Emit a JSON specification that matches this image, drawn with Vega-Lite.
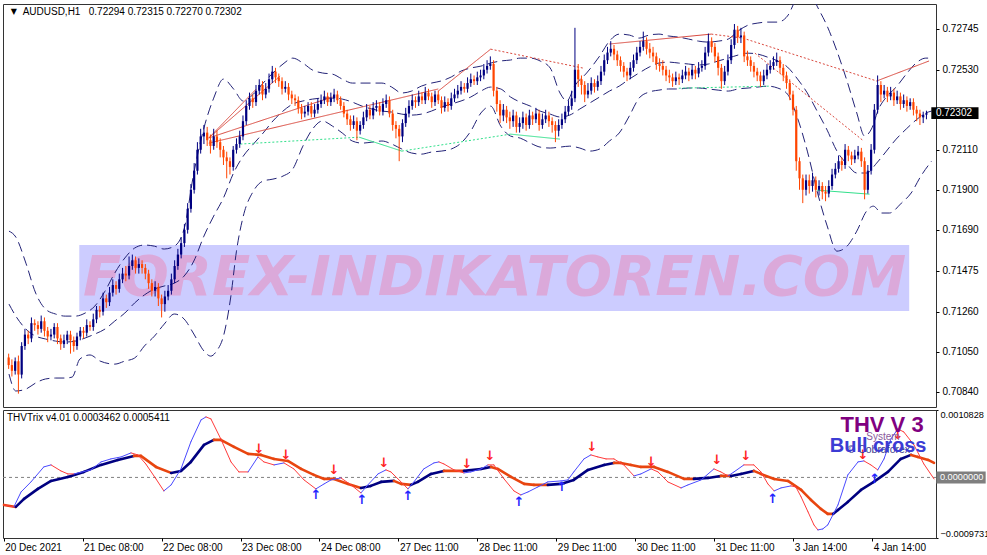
{
  "$schema": "https://vega.github.io/schema/vega-lite/v6.json",
  "usermeta": {"embedOptions": {"actions": false}},
  "background": "#ffffff",
  "padding": {"left": 2, "top": 3, "right": 0, "bottom": 0},
  "spacing": 1,
  "config": {
    "font": "Liberation Sans",
    "view": {"stroke": "#333333", "strokeWidth": 1},
    "axis": {"labelFont": "Liberation Sans", "labelFontSize": 10, "labelColor": "#000000", "tickColor": "#000000", "domain": false, "grid": false, "tickSize": 3, "labelPadding": 3}
  },
  "vconcat": [
    {
      "width": 933,
      "height": 403,
      "layer": [
        {
          "data": {"values": [{}]},
          "mark": {"type": "rect", "color": "#ccccff"},
          "encoding": {
            "x": {"datum": 21.7, "type": "quantitative", "scale": {"domain": [-0.2, 283.4], "nice": false, "zero": false}, "axis": null},
            "x2": {"datum": 276.7},
            "y": {"datum": 0.71264, "type": "quantitative", "scale": {"domain": [0.7076, 0.72875], "nice": false, "zero": false},
                  "axis": {"orient": "right", "title": null, "values": [0.7084, 0.7105, 0.7126, 0.71475, 0.7169, 0.719, 0.7211, 0.7253, 0.72745], "format": ".5f", "labelOverlap": false}},
            "y2": {"datum": 0.7161}
          }
        },
        {
          "data": {"values": [{}]},
          "mark": {"type": "text", "text": "FOREX-INDIKATOREN.COM", "font": "DejaVu Sans", "fontSize": 56, "fontWeight": "bold", "fontStyle": "italic", "color": "#dba9da", "align": "center", "baseline": "middle"},
          "encoding": {
            "x": {"datum": 149.3, "type": "quantitative", "scale": {"domain": [-0.2, 283.4], "nice": false, "zero": false}, "axis": null},
            "y": {"datum": 0.71437, "type": "quantitative", "scale": {"domain": [0.7076, 0.72875], "nice": false, "zero": false}}
          }
        },
        {
          "data": {"values": "i,p,b\n0.1,0.71683,u\n2.2,0.71652,u\n5.3,0.71515,u\n8.3,0.71358,u\n11.3,0.71274,u\n14.4,0.71248,u\n17.4,0.71237,u\n20.5,0.71237,u\n23.5,0.71253,u\n26.5,0.71290,u\n29.6,0.71368,u\n32.6,0.71463,u\n35.7,0.71542,u\n38.7,0.71594,u\n41.7,0.71610,u\n44.8,0.71604,u\n47.8,0.71589,u\n50.9,0.71604,u\n53.9,0.71694,u\n56.9,0.71988,u\n60.0,0.72224,u\n63.0,0.72381,u\n66.0,0.72481,u\n69.1,0.72429,u\n72.1,0.72366,u\n75.2,0.72402,u\n78.2,0.72460,u\n81.2,0.72513,u\n84.3,0.72560,u\n87.3,0.72591,u\n90.4,0.72565,u\n93.4,0.72528,u\n96.4,0.72513,u\n99.5,0.72507,u\n102.5,0.72481,u\n105.6,0.72460,u\n111.6,0.72460,u\n114.7,0.72460,u\n117.7,0.72439,u\n120.8,0.72408,u\n123.8,0.72418,u\n126.8,0.72444,u\n129.9,0.72460,u\n132.9,0.72471,u\n136.0,0.72492,u\n139.0,0.72523,u\n142.0,0.72539,u\n145.1,0.72549,u\n148.1,0.72565,u\n151.2,0.72576,u\n154.2,0.72581,u\n157.2,0.72591,u\n160.3,0.72591,u\n163.3,0.72576,u\n166.4,0.72539,u\n169.4,0.72408,u\n171.5,0.72366,u\n173.9,0.72444,u\n177.6,0.72513,u\n181.6,0.72602,u\n184.6,0.72680,u\n187.6,0.72717,u\n190.7,0.72712,u\n193.7,0.72696,u\n196.8,0.72712,u\n199.8,0.72717,u\n202.8,0.72707,u\n205.9,0.72701,u\n208.9,0.72691,u\n212.0,0.72680,u\n215.0,0.72675,u\n218.0,0.72680,u\n221.1,0.72691,u\n224.1,0.72733,u\n227.2,0.72764,u\n230.2,0.72775,u\n233.2,0.72780,u\n236.3,0.72780,u\n239.3,0.72812,u\n242.4,0.72917,u\n245.4,0.72969,u\n248.4,0.72864,u\n251.5,0.72759,u\n254.5,0.72628,u\n257.6,0.72471,u\n260.6,0.72303,u\n263.0,0.72182,u\n265.1,0.72219,u\n267.3,0.72324,u\n269.7,0.72387,u\n272.7,0.72439,u\n275.8,0.72507,u\n278.8,0.72565,u\n281.8,0.72591,u\n283.6,0.72591,u\n0.1,0.71300,m\n2.2,0.71237,m\n5.3,0.71169,m\n8.3,0.71132,m\n11.3,0.71117,m\n14.4,0.71106,m\n17.4,0.71101,m\n20.5,0.71106,m\n23.5,0.71122,m\n26.5,0.71143,m\n29.6,0.71169,m\n32.6,0.71211,m\n35.7,0.71253,m\n38.7,0.71306,m\n41.7,0.71348,m\n44.8,0.71379,m\n47.8,0.71395,m\n50.9,0.71410,m\n53.9,0.71447,m\n56.9,0.71526,m\n60.0,0.71657,m\n63.0,0.71762,m\n66.0,0.71857,m\n69.1,0.71988,m\n72.1,0.72077,m\n75.2,0.72140,m\n78.2,0.72198,m\n81.2,0.72261,m\n84.3,0.72313,m\n87.3,0.72350,m\n90.4,0.72366,m\n93.4,0.72376,m\n96.4,0.72381,m\n99.5,0.72381,m\n102.5,0.72376,m\n105.6,0.72360,m\n108.6,0.72339,m\n111.6,0.72324,m\n114.7,0.72313,m\n117.7,0.72308,m\n120.8,0.72297,m\n123.8,0.72292,m\n126.8,0.72297,m\n129.9,0.72313,m\n132.9,0.72334,m\n136.0,0.72350,m\n139.0,0.72366,m\n142.0,0.72387,m\n145.1,0.72418,m\n148.1,0.72439,m\n151.2,0.72429,m\n154.2,0.72387,m\n157.2,0.72360,m\n160.3,0.72339,m\n163.3,0.72313,m\n166.4,0.72297,m\n169.4,0.72282,m\n172.4,0.72292,m\n175.5,0.72324,m\n178.5,0.72355,m\n181.6,0.72387,m\n184.6,0.72418,m\n187.6,0.72444,m\n190.7,0.72481,m\n193.7,0.72513,m\n196.8,0.72544,m\n199.8,0.72565,m\n202.8,0.72570,m\n205.9,0.72565,m\n208.9,0.72560,m\n212.0,0.72555,m\n215.0,0.72560,m\n218.0,0.72576,m\n221.1,0.72591,m\n224.1,0.72607,m\n227.2,0.72617,m\n230.2,0.72612,m\n233.2,0.72596,m\n236.3,0.72576,m\n239.3,0.72544,m\n242.4,0.72481,m\n245.4,0.72408,m\n248.4,0.72313,m\n251.5,0.72213,m\n254.5,0.72103,m\n257.6,0.72035,m\n260.6,0.71988,m\n263.6,0.71988,m\n266.7,0.72040,m\n269.7,0.72103,m\n272.7,0.72166,m\n275.8,0.72219,m\n278.8,0.72266,m\n281.8,0.72303,m\n283.6,0.72313,m\n0.1,0.70933,l\n2.2,0.70844,l\n5.3,0.70854,l\n8.3,0.70886,l\n11.3,0.70907,l\n14.4,0.70912,l\n17.4,0.70912,l\n19.5,0.70917,l\n21.9,0.71012,l\n25.0,0.71033,l\n28.1,0.71001,l\n32.6,0.70985,l\n35.7,0.71001,l\n38.7,0.71017,l\n41.7,0.71080,l\n44.8,0.71132,l\n47.8,0.71195,l\n50.9,0.71248,l\n53.9,0.71222,l\n56.9,0.71143,l\n60.0,0.71054,l\n62.1,0.71027,l\n63.9,0.71054,l\n66.0,0.71132,l\n68.2,0.71332,l\n70.0,0.71578,l\n72.1,0.71762,l\n75.2,0.71893,l\n78.2,0.71946,l\n81.2,0.71956,l\n84.3,0.71972,l\n87.3,0.72009,l\n90.4,0.72129,l\n93.4,0.72219,l\n96.4,0.72261,l\n99.5,0.72234,l\n102.5,0.72198,l\n105.6,0.72156,l\n108.6,0.72145,l\n111.6,0.72150,l\n114.7,0.72156,l\n117.7,0.72140,l\n120.8,0.72114,l\n123.8,0.72093,l\n126.8,0.72087,l\n129.9,0.72098,l\n132.9,0.72103,l\n136.0,0.72114,l\n139.0,0.72145,l\n142.0,0.72208,l\n145.1,0.72303,l\n148.1,0.72339,l\n151.2,0.72234,l\n154.2,0.72182,l\n157.2,0.72171,l\n160.3,0.72145,l\n163.3,0.72124,l\n166.4,0.72119,l\n169.4,0.72124,l\n172.4,0.72129,l\n175.5,0.72119,l\n178.5,0.72103,l\n181.6,0.72114,l\n184.6,0.72156,l\n187.6,0.72198,l\n190.7,0.72287,l\n193.7,0.72381,l\n196.8,0.72413,l\n199.8,0.72423,l\n202.8,0.72429,l\n205.9,0.72429,l\n208.9,0.72434,l\n212.0,0.72434,l\n215.0,0.72429,l\n218.0,0.72423,l\n221.1,0.72418,l\n224.1,0.72429,l\n227.2,0.72434,l\n230.2,0.72439,l\n233.2,0.72444,l\n236.3,0.72434,l\n239.3,0.72402,l\n242.4,0.72276,l\n245.4,0.72103,l\n248.4,0.71893,l\n251.5,0.71710,l\n254.5,0.71578,l\n257.6,0.71604,l\n260.6,0.71683,l\n263.6,0.71788,l\n265.7,0.71814,l\n268.2,0.71778,l\n270.6,0.71778,l\n274.3,0.71830,l\n277.3,0.71883,l\n280.3,0.71972,l\n283.6,0.72051,l", "format": {"type": "csv", "parse": {"i": "number", "p": "number"}}},
          "mark": {"type": "line", "color": "#232377", "strokeWidth": 1, "strokeDash": [10, 5], "interpolate": "monotone", "clip": true},
          "encoding": {
            "x": {"field": "i", "type": "quantitative", "scale": {"domain": [-0.2, 283.4], "nice": false, "zero": false}, "axis": null},
            "y": {"field": "p", "type": "quantitative", "scale": {"domain": [0.7076, 0.72875], "nice": false, "zero": false}},
            "detail": {"field": "b", "type": "nominal"},
            "order": {"field": "i", "type": "quantitative"}
          }
        },
        {
          "data": {"values": "i1,p1,i2,p2,k\n61.5,0.72172,76.1,0.72429,rs\n61.5,0.72172,83.4,0.72497,rs\n61.5,0.72172,99.5,0.72387,rs\n61.5,0.72145,132.0,0.72429,rs\n132.0,0.72418,148.1,0.72638,rs\n148.1,0.72638,176.4,0.72539,rd\n184.6,0.72665,215.9,0.72717,rs\n215.9,0.72717,225.6,0.72696,rd\n225.6,0.72696,266.7,0.72471,rd\n229.3,0.72617,262.7,0.72156,rd\n266.7,0.72471,282.8,0.72576,rs\n71.2,0.72140,107.7,0.72176,gd\n107.7,0.72176,120.8,0.72103,gs\n120.8,0.72103,154.2,0.72192,gd\n154.2,0.72192,169.4,0.72166,gs\n205.9,0.72433,234.1,0.72444,gd\n248.4,0.71898,264.5,0.71877,gs", "format": {"type": "csv", "parse": {"i1": "number", "p1": "number", "i2": "number", "p2": "number"}}},
          "mark": {"type": "rule", "strokeWidth": 1},
          "encoding": {
            "x": {"field": "i1", "type": "quantitative", "scale": {"domain": [-0.2, 283.4], "nice": false, "zero": false}, "axis": null},
            "x2": {"field": "i2"},
            "y": {"field": "p1", "type": "quantitative", "scale": {"domain": [0.7076, 0.72875], "nice": false, "zero": false}},
            "y2": {"field": "p2"},
            "color": {"field": "k", "type": "nominal", "scale": {"domain": ["rs", "rd", "gs", "gd"], "range": ["#d9473c", "#d9473c", "#2fe08a", "#2fe08a"]}, "legend": null},
            "strokeDash": {"field": "k", "type": "nominal", "scale": {"domain": ["rs", "rd", "gs", "gd"], "range": [[1, 0], [2, 2], [1, 0], [2, 2]]}, "legend": null}
          }
        },
        {
          "data": {"values": "i,o,h,l,c\n0,0.7102,0.7104,0.7096,0.7098\n1,0.7098,0.7101,0.7092,0.7095\n2,0.7095,0.7102,0.7093,0.7100\n3,0.7100,0.7103,0.7083,0.7093\n4,0.7093,0.7110,0.7091,0.7108\n5,0.7108,0.7117,0.7106,0.7114\n6,0.7114,0.7116,0.7109,0.7112\n7,0.7112,0.7123,0.7110,0.7120\n8,0.7120,0.7122,0.7116,0.7119\n9,0.7119,0.7121,0.7114,0.7117\n10,0.7117,0.7124,0.7115,0.7121\n11,0.7121,0.7123,0.7113,0.7116\n12,0.7116,0.7118,0.7110,0.7113\n13,0.7113,0.7117,0.7111,0.7114\n14,0.7114,0.7120,0.7112,0.7118\n15,0.7118,0.7120,0.7109,0.7112\n16,0.7112,0.7114,0.7106,0.7109\n17,0.7109,0.7114,0.7107,0.7111\n18,0.7111,0.7116,0.7109,0.7114\n19,0.7114,0.7116,0.7104,0.7111\n20,0.7111,0.7113,0.7105,0.7108\n21,0.7108,0.7115,0.7106,0.7113\n22,0.7113,0.7118,0.7111,0.7116\n23,0.7116,0.7118,0.7112,0.7115\n24,0.7115,0.7122,0.7113,0.7119\n25,0.7119,0.7121,0.7116,0.7118\n26,0.7118,0.7125,0.7116,0.7122\n27,0.7122,0.7129,0.7120,0.7127\n28,0.7127,0.7129,0.7123,0.7126\n29,0.7126,0.7136,0.7124,0.7133\n30,0.7133,0.7135,0.7128,0.7131\n31,0.7131,0.7139,0.7129,0.7136\n32,0.7136,0.7143,0.7134,0.7140\n33,0.7140,0.7142,0.7135,0.7138\n34,0.7138,0.7146,0.7136,0.7143\n35,0.7143,0.7149,0.7141,0.7146\n36,0.7146,0.7150,0.7142,0.7145\n37,0.7145,0.7155,0.7143,0.7150\n38,0.7150,0.7156,0.7148,0.7153\n39,0.7153,0.7155,0.7146,0.7149\n40,0.7149,0.7154,0.7146,0.7151\n41,0.7151,0.7153,0.7146,0.7149\n42,0.7149,0.7151,0.7143,0.7146\n43,0.7146,0.7148,0.7138,0.7141\n44,0.7141,0.7143,0.7134,0.7137\n45,0.7137,0.7142,0.7134,0.7139\n46,0.7139,0.7141,0.7129,0.7133\n47,0.7133,0.7135,0.7123,0.7130\n48,0.7130,0.7137,0.7126,0.7134\n49,0.7134,0.7140,0.7132,0.7137\n50,0.7137,0.7146,0.7135,0.7143\n51,0.7143,0.7153,0.7141,0.7150\n52,0.7150,0.7159,0.7148,0.7156\n53,0.7156,0.7165,0.7154,0.7162\n54,0.7162,0.7172,0.7160,0.7169\n55,0.7169,0.7183,0.7167,0.7180\n56,0.7180,0.7193,0.7178,0.7190\n57,0.7190,0.7204,0.7188,0.7200\n58,0.7200,0.7215,0.7198,0.7211\n59,0.7211,0.7222,0.7209,0.7218\n60,0.7218,0.7224,0.7214,0.7220\n61,0.7220,0.7223,0.7213,0.7216\n62,0.7216,0.7219,0.7209,0.7213\n63,0.7213,0.7222,0.7211,0.7218\n64,0.7218,0.7221,0.7212,0.7215\n65,0.7215,0.7217,0.7207,0.7211\n66,0.7211,0.7213,0.7203,0.7207\n67,0.7207,0.7210,0.7196,0.7205\n68,0.7205,0.7207,0.7198,0.7202\n69,0.7202,0.7213,0.7200,0.7211\n70,0.7211,0.7217,0.7209,0.7214\n71,0.7214,0.7221,0.7212,0.7218\n72,0.7218,0.7229,0.7216,0.7226\n73,0.7226,0.7237,0.7224,0.7234\n74,0.7234,0.7241,0.7232,0.7238\n75,0.7238,0.7240,0.7233,0.7236\n76,0.7236,0.7245,0.7234,0.7242\n77,0.7242,0.7248,0.7240,0.7245\n78,0.7245,0.7247,0.7237,0.7240\n79,0.7240,0.7246,0.7238,0.7243\n80,0.7243,0.7251,0.7241,0.7248\n81,0.7248,0.7255,0.7246,0.7252\n82,0.7252,0.7254,0.7246,0.7249\n83,0.7249,0.7251,0.7244,0.7247\n84,0.7247,0.7249,0.7240,0.7243\n85,0.7243,0.7247,0.7241,0.7244\n86,0.7244,0.7246,0.7237,0.7240\n87,0.7240,0.7242,0.7235,0.7238\n88,0.7238,0.7240,0.7234,0.7237\n89,0.7237,0.7239,0.7230,0.7233\n90,0.7233,0.7235,0.7227,0.7230\n91,0.7230,0.7234,0.7228,0.7231\n92,0.7231,0.7236,0.7229,0.7234\n93,0.7234,0.7236,0.7228,0.7230\n94,0.7230,0.7235,0.7228,0.7232\n95,0.7232,0.7238,0.7230,0.7235\n96,0.7235,0.7240,0.7233,0.7237\n97,0.7237,0.7242,0.7235,0.7239\n98,0.7239,0.7241,0.7234,0.7236\n99,0.7236,0.7241,0.7234,0.7238\n100,0.7238,0.7243,0.7236,0.7240\n101,0.7240,0.7242,0.7235,0.7237\n102,0.7237,0.7239,0.7232,0.7234\n103,0.7234,0.7236,0.7228,0.7230\n104,0.7230,0.7232,0.7224,0.7227\n105,0.7227,0.7229,0.7221,0.7224\n106,0.7224,0.7229,0.7222,0.7226\n107,0.7226,0.7228,0.7216,0.7221\n108,0.7221,0.7226,0.7219,0.7224\n109,0.7224,0.7231,0.7222,0.7228\n110,0.7228,0.7235,0.7226,0.7232\n111,0.7232,0.7234,0.7227,0.7229\n112,0.7229,0.7236,0.7227,0.7233\n113,0.7233,0.7237,0.7231,0.7234\n114,0.7234,0.7236,0.7229,0.7231\n115,0.7231,0.7238,0.7229,0.7235\n116,0.7235,0.7240,0.7233,0.7237\n117,0.7237,0.7239,0.7228,0.7230\n118,0.7230,0.7232,0.7221,0.7224\n119,0.7224,0.7226,0.7217,0.7222\n120,0.7222,0.7224,0.7205,0.7218\n121,0.7218,0.7227,0.7215,0.7225\n122,0.7225,0.7233,0.7223,0.7230\n123,0.7230,0.7237,0.7228,0.7234\n124,0.7234,0.7240,0.7232,0.7237\n125,0.7237,0.7239,0.7233,0.7236\n126,0.7236,0.7242,0.7234,0.7239\n127,0.7239,0.7241,0.7235,0.7237\n128,0.7237,0.7244,0.7235,0.7241\n129,0.7241,0.7243,0.7237,0.7239\n130,0.7239,0.7241,0.7233,0.7236\n131,0.7236,0.7242,0.7234,0.7240\n132,0.7240,0.7242,0.7235,0.7237\n133,0.7237,0.7239,0.7230,0.7233\n134,0.7233,0.7239,0.7231,0.7236\n135,0.7236,0.7238,0.7231,0.7234\n136,0.7234,0.7241,0.7232,0.7238\n137,0.7238,0.7243,0.7236,0.7240\n138,0.7240,0.7245,0.7238,0.7242\n139,0.7242,0.7247,0.7240,0.7244\n140,0.7244,0.7246,0.7241,0.7243\n141,0.7243,0.7249,0.7241,0.7246\n142,0.7246,0.7251,0.7244,0.7248\n143,0.7248,0.7250,0.7245,0.7247\n144,0.7247,0.7252,0.7245,0.7249\n145,0.7249,0.7253,0.7247,0.7250\n146,0.7250,0.7256,0.7248,0.7253\n147,0.7253,0.7258,0.7251,0.7255\n148,0.7255,0.7260,0.7253,0.7256\n149,0.7256,0.7258,0.7239,0.7242\n150,0.7242,0.7244,0.7231,0.7235\n151,0.7235,0.7237,0.7225,0.7229\n152,0.7229,0.7235,0.7226,0.7232\n153,0.7232,0.7234,0.7225,0.7228\n154,0.7228,0.7231,0.7222,0.7226\n155,0.7226,0.7232,0.7223,0.7229\n156,0.7229,0.7231,0.7220,0.7223\n157,0.7223,0.7228,0.7220,0.7225\n158,0.7225,0.7231,0.7222,0.7228\n159,0.7228,0.7230,0.7221,0.7224\n160,0.7224,0.7232,0.7222,0.7229\n161,0.7229,0.7231,0.7224,0.7227\n162,0.7227,0.7233,0.7225,0.7230\n163,0.7230,0.7232,0.7221,0.7224\n164,0.7224,0.7230,0.7222,0.7227\n165,0.7227,0.7232,0.7225,0.7229\n166,0.7229,0.7231,0.7223,0.7226\n167,0.7226,0.7228,0.7220,0.7224\n168,0.7224,0.7226,0.7215,0.7221\n169,0.7221,0.7227,0.7218,0.7224\n170,0.7224,0.7230,0.7222,0.7227\n171,0.7227,0.7234,0.7225,0.7231\n172,0.7231,0.7237,0.7229,0.7234\n173,0.7234,0.7242,0.7232,0.7238\n174,0.7238,0.7275,0.7236,0.7253\n175,0.7253,0.7256,0.7244,0.7248\n176,0.7248,0.7250,0.7240,0.7245\n177,0.7245,0.7247,0.7236,0.7240\n178,0.7240,0.7246,0.7238,0.7242\n179,0.7242,0.7249,0.7240,0.7246\n180,0.7246,0.7248,0.7241,0.7244\n181,0.7244,0.7250,0.7242,0.7247\n182,0.7247,0.7255,0.7245,0.7252\n183,0.7252,0.7261,0.7250,0.7258\n184,0.7258,0.7265,0.7256,0.7262\n185,0.7262,0.7268,0.7260,0.7264\n186,0.7264,0.7266,0.7258,0.7261\n187,0.7261,0.7263,0.7255,0.7258\n188,0.7258,0.7260,0.7252,0.7255\n189,0.7255,0.7257,0.7249,0.7252\n190,0.7252,0.7254,0.7247,0.7250\n191,0.7250,0.7257,0.7248,0.7254\n192,0.7254,0.7261,0.7252,0.7258\n193,0.7258,0.7265,0.7256,0.7262\n194,0.7262,0.7268,0.7260,0.7265\n195,0.7265,0.7273,0.7263,0.7268\n196,0.7268,0.7270,0.7261,0.7264\n197,0.7264,0.7267,0.7259,0.7262\n198,0.7262,0.7265,0.7257,0.7260\n199,0.7260,0.7262,0.7253,0.7256\n200,0.7256,0.7259,0.7252,0.7255\n201,0.7255,0.7258,0.7250,0.7253\n202,0.7253,0.7255,0.7247,0.7250\n203,0.7250,0.7253,0.7246,0.7249\n204,0.7249,0.7251,0.7244,0.7247\n205,0.7247,0.7252,0.7245,0.7249\n206,0.7249,0.7251,0.7245,0.7248\n207,0.7248,0.7253,0.7246,0.7250\n208,0.7250,0.7255,0.7248,0.7252\n209,0.7252,0.7254,0.7247,0.7250\n210,0.7250,0.7256,0.7248,0.7253\n211,0.7253,0.7255,0.7248,0.7251\n212,0.7251,0.7257,0.7249,0.7254\n213,0.7254,0.7258,0.7252,0.7255\n214,0.7255,0.7265,0.7253,0.7262\n215,0.7262,0.7272,0.7260,0.7268\n216,0.7268,0.7270,0.7262,0.7265\n217,0.7265,0.7267,0.7257,0.7260\n218,0.7260,0.7262,0.7250,0.7254\n219,0.7254,0.7256,0.7243,0.7247\n220,0.7247,0.7255,0.7245,0.7252\n221,0.7252,0.7261,0.7250,0.7258\n222,0.7258,0.7269,0.7256,0.7266\n223,0.7266,0.7277,0.7264,0.7274\n224,0.7274,0.7276,0.7267,0.7270\n225,0.7270,0.7275,0.7267,0.7271\n226,0.7271,0.7273,0.7257,0.7260\n227,0.7260,0.7263,0.7255,0.7258\n228,0.7258,0.7260,0.7252,0.7255\n229,0.7255,0.7257,0.7249,0.7252\n230,0.7252,0.7254,0.7247,0.7250\n231,0.7250,0.7252,0.7244,0.7247\n232,0.7247,0.7253,0.7245,0.7250\n233,0.7250,0.7256,0.7248,0.7253\n234,0.7253,0.7258,0.7251,0.7255\n235,0.7255,0.7260,0.7253,0.7257\n236,0.7257,0.7262,0.7255,0.7258\n237,0.7258,0.7260,0.7251,0.7254\n238,0.7254,0.7256,0.7247,0.7250\n239,0.7250,0.7252,0.7243,0.7246\n240,0.7246,0.7248,0.7237,0.7240\n241,0.7240,0.7242,0.7229,0.7232\n242,0.7232,0.7234,0.7200,0.7205\n243,0.7205,0.7207,0.7190,0.7196\n244,0.7196,0.7198,0.7183,0.7190\n245,0.7190,0.7198,0.7187,0.7195\n246,0.7195,0.7198,0.7188,0.7192\n247,0.7192,0.7199,0.7189,0.7195\n248,0.7195,0.7197,0.7186,0.7190\n249,0.7190,0.7195,0.7187,0.7192\n250,0.7192,0.7194,0.7185,0.7189\n251,0.7189,0.7192,0.7184,0.7188\n252,0.7188,0.7195,0.7186,0.7192\n253,0.7192,0.7201,0.7190,0.7198\n254,0.7198,0.7204,0.7196,0.7201\n255,0.7201,0.7208,0.7199,0.7205\n256,0.7205,0.7207,0.7200,0.7203\n257,0.7203,0.7214,0.7201,0.7211\n258,0.7211,0.7213,0.7205,0.7208\n259,0.7208,0.7210,0.7203,0.7206\n260,0.7206,0.7211,0.7204,0.7208\n261,0.7208,0.7213,0.7206,0.7210\n262,0.7210,0.7212,0.7202,0.7205\n263,0.7205,0.7207,0.7185,0.7190\n264,0.7190,0.7203,0.7188,0.7200\n265,0.7200,0.7214,0.7198,0.7211\n266,0.7211,0.7235,0.7209,0.7232\n267,0.7232,0.7250,0.7230,0.7245\n268,0.7245,0.7247,0.7236,0.7240\n269,0.7240,0.7245,0.7238,0.7242\n270,0.7242,0.7244,0.7236,0.7239\n271,0.7239,0.7244,0.7237,0.7241\n272,0.7241,0.7243,0.7234,0.7237\n273,0.7237,0.7242,0.7235,0.7239\n274,0.7239,0.7241,0.7232,0.7235\n275,0.7235,0.7240,0.7233,0.7237\n276,0.7237,0.7239,0.7231,0.7234\n277,0.7234,0.7238,0.7232,0.7236\n278,0.7236,0.7238,0.7229,0.7232\n279,0.7232,0.7234,0.7226,0.7230\n280,0.7230,0.7232,0.7224,0.7228\n281,0.7228,0.7231,0.7225,0.72294\n282,0.72294,0.72315,0.72270,0.72302", "format": {"type": "csv", "parse": {"i": "number", "o": "number", "h": "number", "l": "number", "c": "number"}}},
          "layer": [
            {
              "mark": {"type": "rule", "strokeWidth": 1},
              "encoding": {
                "x": {"field": "i", "type": "quantitative", "scale": {"domain": [-0.2, 283.4], "nice": false, "zero": false}, "axis": null},
                "y": {"field": "l", "type": "quantitative", "scale": {"domain": [0.7076, 0.72875], "nice": false, "zero": false}},
                "y2": {"field": "h"},
                "color": {"condition": {"test": "datum.c > datum.o", "value": "#000080"}, "value": "#ff4500"}
              }
            },
            {
              "mark": {"type": "bar", "size": 2.2},
              "encoding": {
                "x": {"field": "i", "type": "quantitative", "scale": {"domain": [-0.2, 283.4], "nice": false, "zero": false}, "axis": null},
                "y": {"field": "o", "type": "quantitative", "scale": {"domain": [0.7076, 0.72875], "nice": false, "zero": false}},
                "y2": {"field": "c"},
                "color": {"condition": {"test": "datum.c > datum.o", "value": "#000080"}, "value": "#ff4500"}
              }
            }
          ]
        },
        {
          "data": {"values": [{}]},
          "mark": {"type": "text", "text": "▼", "font": "DejaVu Sans", "fontSize": 8, "color": "#000000", "align": "center", "baseline": "middle"},
          "encoding": {
            "x": {"datum": 1.6, "type": "quantitative", "scale": {"domain": [-0.2, 283.4], "nice": false, "zero": false}, "axis": null},
            "y": {"datum": 0.72833, "type": "quantitative", "scale": {"domain": [0.7076, 0.72875], "nice": false, "zero": false}}
          }
        },
        {
          "data": {"values": [{}]},
          "mark": {"type": "text", "text": "AUDUSD,H1\u00a0\u00a0 0.72294 0.72315 0.72270 0.72302", "fontSize": 10, "color": "#000000", "align": "left", "baseline": "middle"},
          "encoding": {
            "x": {"datum": 4.3, "type": "quantitative", "scale": {"domain": [-0.2, 283.4], "nice": false, "zero": false}, "axis": null},
            "y": {"datum": 0.72833, "type": "quantitative", "scale": {"domain": [0.7076, 0.72875], "nice": false, "zero": false}}
          }
        },
        {
          "data": {"values": [{}]},
          "mark": {"type": "rect", "color": "#000000"},
          "encoding": {
            "x": {"datum": 283.5, "type": "quantitative", "scale": {"domain": [-0.2, 283.4], "nice": false, "zero": false}, "axis": null},
            "x2": {"datum": 298.0},
            "y": {"datum": 0.72333, "type": "quantitative", "scale": {"domain": [0.7076, 0.72875], "nice": false, "zero": false}},
            "y2": {"datum": 0.72271}
          }
        },
        {
          "data": {"values": [{}]},
          "mark": {"type": "text", "text": "0.72302", "fontSize": 10, "color": "#ffffff", "align": "left", "baseline": "middle"},
          "encoding": {
            "x": {"datum": 284.9, "type": "quantitative", "scale": {"domain": [-0.2, 283.4], "nice": false, "zero": false}, "axis": null},
            "y": {"datum": 0.72302, "type": "quantitative", "scale": {"domain": [0.7076, 0.72875], "nice": false, "zero": false}}
          }
        }
      ]
    },
    {
      "width": 933,
      "height": 128,
      "layer": [
        {
          "data": {"values": [{}]},
          "mark": {"type": "rule", "color": "#808080", "strokeDash": [3, 3], "strokeWidth": 1},
          "encoding": {
            "y": {"datum": 0, "type": "quantitative", "scale": {"domain": [-0.0009731, 0.0010828], "nice": false, "zero": false},
                  "axis": {"orient": "right", "title": null, "values": [-0.0009731, 0.0010828], "format": ".7f", "labelFlush": true, "labelOverlap": false, "labelFontSize": 9.2, "tickSize": 2, "labelPadding": 2}}
          }
        },
        {
          "data": {"values": "i,v\n0.1,-0.0004417\n3.7,-0.0004738\n6.2,-0.0003453\n10.4,-0.0001847\n14.4,-0.0000562\n19.5,0.0000080\n24.4,0.0000883\n29.6,0.0002008\n34.7,0.0002811\n39.6,0.0003453\n41.7,0.0003453\n46.3,0.0001686\n50.9,0.0000723\n53.9,0.0001044\n56.9,0.0002489\n60.9,0.0005220\n63.9,0.0006023\n66.0,0.0006023\n70.0,0.0004898\n74.3,0.0003774\n78.2,0.0003614\n82.2,0.0002971\n86.4,0.0002650\n90.4,0.0001365\n94.3,0.0000402\n97.4,-0.0000241\n100.4,-0.0000241\n104.7,-0.0001044\n108.6,-0.0001686\n111.6,-0.0001365\n114.7,-0.0000723\n118.6,-0.0000562\n120.8,-0.0001044\n123.8,-0.0001205\n125.9,-0.0000723\n129.9,0.0000562\n133.8,0.0001044\n139.9,0.0001044\n145.1,0.0001365\n148.1,0.0001686\n150.2,0.0001365\n154.2,0.0000080\n158.2,-0.0001044\n161.2,-0.0001205\n165.4,-0.0001205\n169.4,-0.0001044\n173.3,-0.0000402\n177.6,0.0001205\n182.5,0.0002008\n185.5,0.0002329\n187.6,0.0002329\n190.7,0.0002008\n193.7,0.0001686\n197.7,0.0001686\n201.9,0.0000883\n206.8,-0.0000241\n209.8,-0.0000241\n214.1,-0.0000080\n218.0,0.0000241\n221.1,0.0000241\n224.1,0.0000562\n228.0,0.0001044\n230.2,0.0000562\n234.2,-0.0000241\n238.4,-0.0000562\n242.4,-0.0002008\n245.4,-0.0003614\n248.4,-0.0005059\n250.5,-0.0005862\n252.1,-0.0005862\n253.6,-0.0005220\n256.6,-0.0003935\n260.6,-0.0002008\n264.5,-0.0000723\n268.8,0.0000883\n272.7,0.0002971\n275.8,0.0003614\n277.9,0.0003292\n281.0,0.0002811\n282.8,0.0002329", "format": {"type": "csv", "parse": {"i": "number", "v": "number"}}},
          "transform": [
            {"window": [{"op": "lead", "field": "i", "as": "i2"}, {"op": "lead", "field": "v", "as": "v2"}], "sort": [{"field": "i", "order": "ascending"}]},
            {"filter": "datum.i2 != null"}
          ],
          "mark": {"type": "rule", "strokeWidth": 2.6, "strokeCap": "round"},
          "encoding": {
            "x": {"field": "i", "type": "quantitative", "scale": {"domain": [-0.2, 283.4], "nice": false, "zero": false},
                  "axis": {"title": null, "values": [0, 24, 48, 72, 96, 120, 144, 168, 192, 216, 240, 264], "labelExpr": "['20 Dec 2021','21 Dec 08:00','22 Dec 08:00','23 Dec 08:00','24 Dec 08:00','27 Dec 11:00','28 Dec 11:00','29 Dec 11:00','30 Dec 11:00','31 Dec 11:00','3 Jan 14:00','4 Jan 14:00'][round(datum.value/24)]", "labelAlign": "left", "labelOffset": 1, "tickSize": 3, "labelPadding": 1, "labelOverlap": false, "labelFlush": false, "labelBound": false}},
            "x2": {"field": "i2"},
            "y": {"field": "v", "type": "quantitative", "scale": {"domain": [-0.0009731, 0.0010828], "nice": false, "zero": false}},
            "y2": {"field": "v2"},
            "color": {"condition": {"test": "datum.v2 > datum.v", "value": "#000080"}, "value": "#e8450f"}
          }
        },
        {
          "data": {"values": "i,v\n0.1,-0.0004417\n3.1,-0.0004738\n5.3,-0.0002329\n8.3,-0.0000723\n12.2,0.0001686\n14.4,0.0002008\n17.4,0.0001044\n19.5,0.0000562\n21.4,0.0000562\n26.5,0.0001205\n29.6,0.0002489\n32.6,0.0002971\n35.7,0.0003292\n38.7,0.0003935\n40.8,0.0003614\n43.2,0.0002168\n46.3,-0.0000241\n48.7,-0.0002168\n50.9,-0.0001205\n53.9,0.0001365\n56.9,0.0005701\n60.0,0.0009235\n61.5,0.0009716\n63.0,0.0009395\n66.0,0.0006183\n69.1,0.0002489\n71.5,0.0000883\n74.3,0.0000883\n77.3,0.0003292\n79.1,0.0002489\n82.2,0.0002008\n85.2,0.0002329\n88.2,0.0001365\n91.3,-0.0000402\n94.9,-0.0001847\n97.4,-0.0001044\n99.5,-0.0000402\n102.5,-0.0000080\n105.6,-0.0001205\n108.6,-0.0002489\n110.7,-0.0001205\n113.8,0.0000562\n116.2,0.0001205\n117.7,0.0000883\n120.8,-0.0000723\n122.9,-0.0001847\n124.7,-0.0000723\n127.7,0.0001365\n130.8,0.0002329\n132.3,0.0002489\n133.8,0.0002168\n136.9,0.0001205\n139.9,0.0000723\n142.0,0.0000883\n145.1,0.0001365\n147.2,0.0002008\n149.0,0.0002008\n152.1,-0.0000241\n155.1,-0.0002168\n157.2,-0.0002811\n159.4,-0.0002329\n162.4,-0.0001526\n165.4,-0.0000723\n169.4,-0.0000562\n171.5,-0.0000402\n173.3,0.0000883\n176.4,0.0002971\n178.5,0.0003614\n180.6,0.0003292\n183.1,0.0002971\n185.5,0.0002971\n188.5,0.0002008\n191.6,0.0000241\n193.7,0.0000562\n196.8,0.0001365\n198.9,0.0000883\n201.9,-0.0000723\n205.9,-0.0001686\n208.0,-0.0001205\n212.0,-0.0000402\n215.9,0.0001365\n218.0,0.0000883\n220.2,0.0000241\n222.0,0.0000883\n225.0,0.0002008\n228.0,0.0002008\n230.2,0.0000883\n232.3,-0.0001044\n234.2,-0.0002168\n236.3,-0.0001686\n239.3,-0.0001365\n240.8,-0.0001526\n242.4,-0.0003132\n244.5,-0.0005541\n246.3,-0.0007629\n247.5,-0.0008432\n249.0,-0.0008271\n250.5,-0.0007629\n253.6,-0.0004417\n256.6,0.0000402\n259.7,0.0002489\n261.5,0.0002650\n263.6,0.0002008\n265.7,0.0001205\n267.6,0.0002971\n269.7,0.0006183\n271.8,0.0007789\n273.6,0.0007307\n276.7,0.0005220\n279.7,0.0002168\n282.8,-0.0000241", "format": {"type": "csv", "parse": {"i": "number", "v": "number"}}},
          "transform": [
            {"window": [{"op": "lead", "field": "i", "as": "i2"}, {"op": "lead", "field": "v", "as": "v2"}], "sort": [{"field": "i", "order": "ascending"}]},
            {"filter": "datum.i2 != null"}
          ],
          "mark": {"type": "rule", "strokeWidth": 1, "strokeCap": "round"},
          "encoding": {
            "x": {"field": "i", "type": "quantitative", "scale": {"domain": [-0.2, 283.4], "nice": false, "zero": false}},
            "x2": {"field": "i2"},
            "y": {"field": "v", "type": "quantitative", "scale": {"domain": [-0.0009731, 0.0010828], "nice": false, "zero": false}},
            "y2": {"field": "v2"},
            "color": {"condition": {"test": "datum.v2 > datum.v", "value": "#4a4aff"}, "value": "#ff3b3b"}
          }
        },
        {
          "data": {"values": "i,v,d\n77.6,0.0004577,dn\n85.8,0.0003614,dn\n100.4,0.0001205,dn\n115.6,0.0002329,dn\n140.8,0.0002168,dn\n147.8,0.0003453,dn\n178.8,0.0004898,dn\n196.8,0.0002489,dn\n216.8,0.0002811,dn\n225.6,0.0003453,dn\n261.2,0.0003614,dn\n271.8,0.0006826,dn\n94.9,-0.0002811,up\n108.9,-0.0003614,up\n122.9,-0.0002971,up\n156.6,-0.0003935,up\n169.7,-0.0001526,up\n233.8,-0.0003453,up\n264.8,-0.0000241,up", "format": {"type": "csv", "parse": {"i": "number", "v": "number"}}},
          "mark": {"type": "text", "font": "DejaVu Sans", "fontSize": 13, "fontWeight": "bold", "align": "center", "baseline": "middle"},
          "encoding": {
            "x": {"field": "i", "type": "quantitative", "scale": {"domain": [-0.2, 283.4], "nice": false, "zero": false}},
            "y": {"field": "v", "type": "quantitative", "scale": {"domain": [-0.0009731, 0.0010828], "nice": false, "zero": false}},
            "text": {"condition": {"test": "datum.d == 'up'", "value": "↑"}, "value": "↓"},
            "color": {"condition": {"test": "datum.d == 'up'", "value": "#2626ff"}, "value": "#ff2222"}
          }
        },
        {
          "data": {"values": [{}]},
          "mark": {"type": "text", "text": "THVTrix v4.01 0.0003462 0.0005411", "fontSize": 10, "color": "#000000", "align": "left", "baseline": "middle"},
          "encoding": {
            "x": {"datum": 1.0, "type": "quantitative", "scale": {"domain": [-0.2, 283.4], "nice": false, "zero": false}},
            "y": {"datum": 0.00095, "type": "quantitative", "scale": {"domain": [-0.0009731, 0.0010828], "nice": false, "zero": false}}
          }
        },
        {
          "data": {"values": [{}]},
          "mark": {"type": "text", "text": "THV V 3", "fontSize": 22, "fontWeight": "bold", "color": "#800080", "align": "center", "baseline": "middle"},
          "encoding": {
            "x": {"datum": 267.0, "type": "quantitative", "scale": {"domain": [-0.2, 283.4], "nice": false, "zero": false}},
            "y": {"datum": 0.000842, "type": "quantitative", "scale": {"domain": [-0.0009731, 0.0010828], "nice": false, "zero": false}}
          }
        },
        {
          "data": {"values": [{}]},
          "mark": {"type": "text", "text": "System", "fontSize": 10, "color": "#8a5a9c", "align": "center", "baseline": "middle"},
          "encoding": {
            "x": {"datum": 267.3, "type": "quantitative", "scale": {"domain": [-0.2, 283.4], "nice": false, "zero": false}},
            "y": {"datum": 0.000649, "type": "quantitative", "scale": {"domain": [-0.0009731, 0.0010828], "nice": false, "zero": false}}
          }
        },
        {
          "data": {"values": [{}]},
          "mark": {"type": "text", "text": "© Cobraforex", "fontSize": 10.5, "color": "#3a3a8a", "align": "center", "baseline": "middle"},
          "encoding": {
            "x": {"datum": 266.0, "type": "quantitative", "scale": {"domain": [-0.2, 283.4], "nice": false, "zero": false}},
            "y": {"datum": 0.00044, "type": "quantitative", "scale": {"domain": [-0.0009731, 0.0010828], "nice": false, "zero": false}}
          }
        },
        {
          "data": {"values": [{}]},
          "mark": {"type": "text", "text": "Bull cross", "fontSize": 20, "fontWeight": "bold", "color": "#3c3cd4", "align": "center", "baseline": "middle"},
          "encoding": {
            "x": {"datum": 265.8, "type": "quantitative", "scale": {"domain": [-0.2, 283.4], "nice": false, "zero": false}},
            "y": {"datum": 0.000505, "type": "quantitative", "scale": {"domain": [-0.0009731, 0.0010828], "nice": false, "zero": false}}
          }
        },
        {
          "data": {"values": [{}]},
          "mark": {"type": "rect", "color": "#7f7f7f"},
          "encoding": {
            "x": {"datum": 283.5, "type": "quantitative", "scale": {"domain": [-0.2, 283.4], "nice": false, "zero": false}},
            "x2": {"datum": 298.5},
            "y": {"datum": 0.0000964, "type": "quantitative", "scale": {"domain": [-0.0009731, 0.0010828], "nice": false, "zero": false}},
            "y2": {"datum": -0.0000964}
          }
        },
        {
          "data": {"values": [{}]},
          "mark": {"type": "text", "text": "0.0000000", "fontSize": 9.2, "color": "#ffffff", "align": "left", "baseline": "middle"},
          "encoding": {
            "x": {"datum": 284.6, "type": "quantitative", "scale": {"domain": [-0.2, 283.4], "nice": false, "zero": false}},
            "y": {"datum": 0, "type": "quantitative", "scale": {"domain": [-0.0009731, 0.0010828], "nice": false, "zero": false}}
          }
        }
      ]
    }
  ]
}
